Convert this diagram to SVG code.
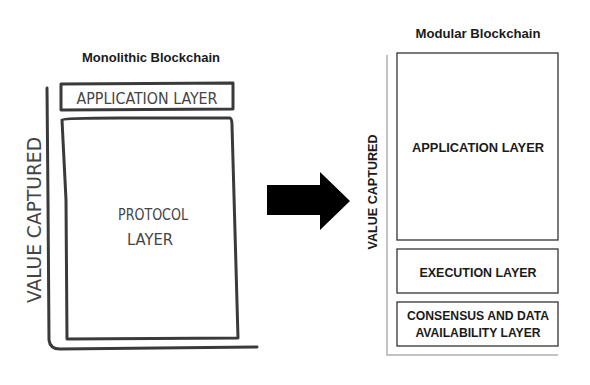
<svg xmlns="http://www.w3.org/2000/svg" width="590" height="385" viewBox="0 0 590 385">
<style>
.title{font-family:"Liberation Sans",Arial,sans-serif;font-weight:bold;font-size:13px;fill:#1a1a1a;text-anchor:middle}
.hand{fill:none;stroke:#3a3a3a;stroke-width:3;stroke-linecap:round;stroke-linejoin:round}
.htxt{font-family:"DejaVu Sans Condensed","DejaVu Sans",sans-serif;font-weight:300;fill:#444;text-anchor:middle}
.box{fill:#fff;stroke:#333;stroke-width:1.3}
.btxt{font-family:"Liberation Sans",Arial,sans-serif;font-weight:bold;font-size:12px;fill:#1a1a1a;text-anchor:middle}
.axis{fill:none;stroke:#b0b0b0;stroke-width:1.5}
</style>
<rect width="590" height="385" fill="#fff"/>
<text class="title" x="151" y="62" textLength="138" lengthAdjust="spacingAndGlyphs">Monolithic Blockchain</text>
<text class="title" x="478" y="38" textLength="125" lengthAdjust="spacingAndGlyphs">Modular Blockchain</text>
<g id="mono-axis">
<path class="hand" d="M47 88 L48 200 L49 340 Q50 349 60 349 L257 347"/>
<text class="htxt" font-size="20" transform="translate(41 220) rotate(-90)" textLength="166" lengthAdjust="spacingAndGlyphs">VALUE CAPTURED</text>
</g>
<g id="mono-app">
<path class="hand" d="M61 84 L233 83 L233 109 L61 110 Z"/>
<text class="htxt" font-size="16" x="147" y="104" textLength="141" lengthAdjust="spacingAndGlyphs">APPLICATION LAYER</text>
</g>
<g id="mono-protocol">
<path class="hand" d="M62 120 Q63 118 120 118 L230 118 Q232 119 232 125 L238 338 L67 339 L66 200 Z"/>
<text class="htxt" font-size="16" x="153" y="220" textLength="70" lengthAdjust="spacingAndGlyphs">PROTOCOL</text>
<text class="htxt" font-size="16" x="150" y="245" textLength="46" lengthAdjust="spacingAndGlyphs">LAYER</text>
</g>
<g id="connectors">
<path d="M267 185 L320 185 L320 172 L350 201 L320 230 L320 215 L267 215 Z" fill="#000"/>
</g>
<g id="mod-axis">
<path class="axis" d="M387 55 L387 355 L558 355"/>
<text class="btxt" transform="translate(377 192) rotate(-90)" textLength="115" lengthAdjust="spacingAndGlyphs">VALUE CAPTURED</text>
</g>
<g id="mod-app">
<rect class="box" x="397" y="53" width="161" height="187"/>
<text class="btxt" x="478" y="152" textLength="132" lengthAdjust="spacingAndGlyphs">APPLICATION LAYER</text>
</g>
<g id="mod-exec">
<rect class="box" x="397" y="249" width="161" height="44"/>
<text class="btxt" x="478" y="277" textLength="117" lengthAdjust="spacingAndGlyphs">EXECUTION LAYER</text>
</g>
<g id="mod-consensus">
<rect class="box" x="397" y="302" width="161" height="44"/>
<text class="btxt" x="478" y="320" textLength="142" lengthAdjust="spacingAndGlyphs">CONSENSUS AND DATA</text>
<text class="btxt" x="478" y="337" textLength="125" lengthAdjust="spacingAndGlyphs">AVAILABILITY LAYER</text>
</g>
</svg>
